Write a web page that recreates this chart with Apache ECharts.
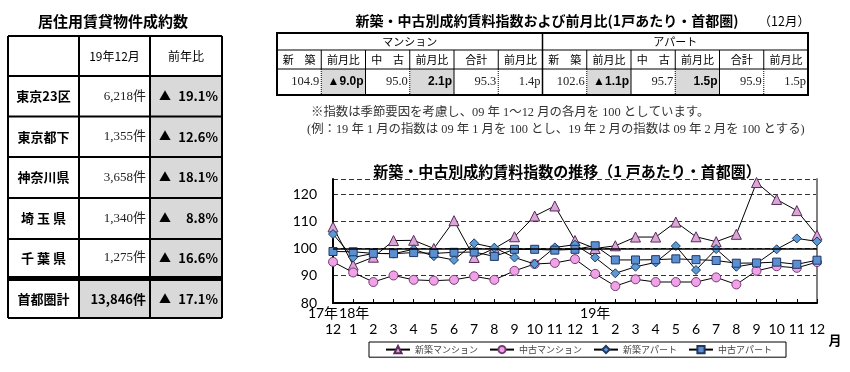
<!DOCTYPE html>
<html><head><meta charset="utf-8">
<script src="https://cdn.jsdelivr.net/npm/echarts@6/dist/echarts.min.js"></script>
<style>html,body{margin:0;padding:0;background:#fff}#c{width:850px;height:372px}</style>
</head><body><div id="c"></div>
<script>
// ---------- chart data ----------
const months = ['12','1','2','3','4','5','6','7','8','9','10','11','12','1','2','3','4','5','6','7','8','9','10','11','12'];
const years  = ['17年','18年','','','','','','','','','','','','19年','','','','','','','','','','',''];
const seriesNames = ['新築マンション','中古マンション','新築アパート','中古アパート'];
const newMansion  = [107.9, 93.9, 96.8, 102.9, 103.0, 100.0, 110.2, 96.7, 100.0, 104.3, 111.9, 115.6, 102.9, 100.0, 101.0, 104.2, 104.2, 109.7, 104.3, 102.5, 105.2, 124.2, 118.0, 113.9, 104.9];
const usedMansion = [95.1, 91.2, 87.7, 90.1, 88.5, 88.2, 88.5, 89.8, 88.5, 91.8, 94.3, 94.7, 96.1, 90.7, 86.2, 88.7, 87.7, 87.7, 87.7, 89.4, 86.8, 91.8, 93.5, 92.9, 95.0];
const newApart    = [105.3, 96.7, 98.2, 98.1, 99.7, 97.2, 95.8, 101.9, 100.3, 96.7, 94.3, 100.4, 101.4, 96.7, 90.9, 93.3, 94.9, 100.9, 92.1, 99.8, 93.3, 94.5, 99.7, 103.7, 102.6];
const usedApart   = [98.9, 98.8, 98.2, 98.1, 98.5, 98.2, 98.6, 98.7, 97.1, 99.7, 99.7, 99.4, 99.7, 101.0, 95.8, 95.8, 95.9, 96.2, 95.9, 95.6, 94.6, 94.7, 95.0, 94.2, 95.7];
const yTicks = [80, 90, 100, 110, 120];

// ---------- left table data ----------
const leftTitle = '居住用賃貸物件成約数';
const leftHeaders = ['', '19年12月', '前年比'];
const regionNames = ['東京23区','東京都下','神奈川県','埼 玉 県','千 葉 県'];
const regionCounts = ['6,218件','1,355件','3,658件','1,340件','1,275件'];
const regionYoY = ['19.1%','12.6%','18.1%','8.8%','16.6%'];
const totalName = '首都圏計', totalCount = '13,846件', totalYoY = '17.1%';

// ---------- right table data ----------
const rightTitle = '新築・中古別成約賃料指数および前月比(1戸あたり・首都圏)';
const rightMonth = '（12月）';
const groupHeaders = ['マンション','アパート'];
const colHeaders = ['新　築','前月比','中　古','前月比','合計','前月比','新　築','前月比','中　古','前月比','合計','前月比'];
const idxValues = ['104.9','▲9.0p','95.0','2.1p','95.3','1.4p','102.6','▲1.1p','95.7','1.5p','95.9','1.5p'];
const idxHighlight = [false,true,false,true,false,false,false,true,false,true,false,false];
const notes = ['※指数は季節要因を考慮し、09 年 1～12 月の各月を 100 としています。',
               '(例：19 年 1 月の指数は 09 年 1 月を 100 とし、19 年 2 月の指数は 09 年 2 月を 100 とする)'];
const chartTitle = '新築・中古別成約賃料指数の推移（1 戸あたり・首都圏）';

const JP = "'Noto Sans CJK JP', sans-serif";
const SERIF = "'Liberation Serif', 'Noto Sans CJK JP', serif";
const GRAY = '#d9d9d9';

const g = [];
const rect = (x,y,w,h,fill) => g.push({type:'rect', silent:true, shape:{x,y,width:w,height:h}, style:{fill}});
const line = (x1,y1,x2,y2,w,color,dash) => g.push({type:'line', silent:true, shape:{x1,y1,x2,y2}, style:{stroke:color||'#000', lineWidth:w, lineDash:dash||null}});
const text = (x,y,t,font,align,color) => g.push({type:'text', silent:true, x, y, style:{text:t, font, fill:color||'#000', align:align||'center', verticalAlign:'middle'}});

// ---- left table ----
(function(){
  const xs = [8, 79, 150, 222];
  const rowsY = [36, 76, 116.5, 157, 198, 239, 277];
  const totTop = 281, totBot = 318;
  text(113, 21, leftTitle, 'bold 15px '+JP);
  rect(150, 76, 72, 201, GRAY);
  rect(79, totTop, 143, totBot-totTop, GRAY);
  rect(8, 277, 214, 4, '#000');
  rowsY.forEach(y => line(8, y, 222, y, 2));
  line(8, totBot, 222, totBot, 2);
  xs.forEach(x => line(x, 36, x, totBot, 2));
  text(114.5, 56, leftHeaders[1], '12px '+JP);
  text(186, 56, leftHeaders[2], '12px '+JP);
  regionNames.forEach((n,i)=>{
    const cy = (rowsY[i+1]+rowsY[i+2])/2;
    text(43.5, cy, n, 'bold 13px '+JP);
    text(146, cy, regionCounts[i], '13px '+SERIF, 'right', '#222');
    text(159, cy, '▲', '12px '+JP, 'left');
    text(218, cy, regionYoY[i], 'bold 13px '+JP, 'right');
  });
  const ty = (totTop+totBot)/2;
  text(43.5, ty, totalName, 'bold 13px '+JP);
  text(146, ty, totalCount, 'bold 13px '+JP, 'right');
  text(159, ty, '▲', '12px '+JP, 'left');
  text(218, ty, totalYoY, 'bold 13px '+JP, 'right');
})();

// ---- right table ----
(function(){
  const x0 = 277, x1 = 808, cw = (x1-x0)/12;
  const y0 = 33, y1 = 50, y2 = 69, y3 = 95;
  text(547, 21, rightTitle, 'bold 14px '+JP);
  text(810, 21, rightMonth, '12.5px '+JP, 'right');
  idxHighlight.forEach((h,i)=>{ if(h) rect(x0+i*cw, y2, cw, y3-y2, GRAY); });
  line(x0, y1, x1, y1, 1);
  line(x0, y2, x1, y2, 1);
  for(let i=1;i<12;i++){
    const x = x0+i*cw;
    if(i===6) continue;
    line(x, y1, x, y2, 1);
    line(x, y2, x, y3, 1, '#000', (i%2===1)?[1,1]:null);
  }
  line(x0+6*cw, y0, x0+6*cw, y3, 1.5);
  g.push({type:'rect', silent:true, shape:{x:x0, y:y0, width:x1-x0, height:y3-y0}, style:{fill:null, stroke:'#000', lineWidth:2}});
  text(x0+3*cw, (y0+y1)/2, groupHeaders[0], '11px '+JP);
  text(x0+9*cw, (y0+y1)/2, groupHeaders[1], '11px '+JP);
  colHeaders.forEach((h,i)=> text(x0+(i+0.5)*cw, (y1+y2)/2, h, '11px '+JP));
  idxValues.forEach((v,i)=>{
    const xr = x0+(i+1)*cw-2;
    if(idxHighlight[i]) text(xr, (y2+y3)/2, v, 'bold 12px '+"'Liberation Sans', 'Noto Sans CJK JP'", 'right');
    else text(xr, (y2+y3)/2, v, '12.5px '+SERIF, 'right', '#222');
  });
  text(311, 113, notes[0], '12.4px '+SERIF, 'left', '#333');
  text(307, 130, notes[1], '12.4px '+SERIF, 'left', '#333');
})();

// ---- chart title and unit ----
text(567, 171, chartTitle, 'bold 15px '+JP);
text(835, 340, '月', 'bold 13px '+JP);

const mk = (name, data, symbol, size, fill, border, z) => ({
  name, type:'line', data, symbol, symbolSize:size, showSymbol:true, z,
  lineStyle:{color:'#000', width:1},
  itemStyle:{color:fill, borderColor:border, borderWidth:1},
  emphasis:{disabled:true}, animation:false
});

const series = [
  mk(seriesNames[0], newMansion, 'triangle', 10, '#d9a6d6', '#5a2a5a', 3),
  mk(seriesNames[1], usedMansion, 'circle', 9, '#f0a2e6', '#7a3a7a', 3),
  mk(seriesNames[2], newApart, 'diamond', 9, '#5b9bd5', '#1f3864', 4),
  mk(seriesNames[3], usedApart, 'rect', 8, '#5b8fd0', '#1f3864', 4)
];
series[0].markLine = {silent:true, symbol:'none', label:{show:false}, lineStyle:{color:'#000', width:1.5, type:'solid'}, data:[{yAxis:100}], animation:false};

const chart = echarts.init(document.getElementById('c'), null, {renderer:'canvas'});
chart.setOption({
  backgroundColor:'#fff',
  animation:false,
  grid:{left:333, right:33, top:179, bottom:69},
  legend:{left:369, top:342, itemWidth:24, itemHeight:9, itemGap:11, padding:[3,14,3,16],
    borderColor:'#000', borderWidth:1, backgroundColor:'#fff', selectedMode:false,
    textStyle:{fontSize:9, color:'#444', fontFamily:JP}, data:seriesNames},
  xAxis:{type:'category', boundaryGap:false, data:months.map((m,i)=>i+':'+m),
    axisLine:{lineStyle:{color:'#000', width:2}},
    axisTick:{inside:true, length:4, interval:0, lineStyle:{color:'#000'}},
    axisLabel:{interval:0, margin:2, color:'#000',
      formatter:(v,i)=>{ const tag = i===0?'y0':(i===1?'y1':'y'); return '{'+tag+'|'+(years[i]||' ')+'}\n{m|'+months[i]+'}'; },
      rich:{
        y:{fontSize:14, lineHeight:16, fontFamily:"Lato, 'Noto Sans CJK JP'", color:'#000'},
        y0:{fontSize:14, lineHeight:16, fontFamily:"Lato, 'Noto Sans CJK JP'", color:'#000', padding:[0,20,0,0]},
        y1:{fontSize:14, lineHeight:16, fontFamily:"Lato, 'Noto Sans CJK JP'", color:'#000', padding:[0,0,0,2]},
        m:{fontSize:14, lineHeight:16, fontFamily:"Lato", color:'#000'}
      }},
    splitLine:{show:false}},
  yAxis:[
    {type:'value', min:yTicks[0], max:125.5, interval:10,
      axisLine:{show:true, lineStyle:{color:'#000', width:2}}, axisTick:{show:false},
      axisLabel:{fontSize:14, fontFamily:'Lato', color:'#000', margin:16, showMaxLabel:false},
      splitLine:{show:true, lineStyle:{color:'#333', width:1, type:[5,3]}}},
    {type:'value', min:yTicks[0], max:125.5, interval:10, position:'right',
      axisLine:{show:true, lineStyle:{color:'#808080', width:2}}, axisTick:{show:false},
      axisLabel:{show:false}, splitLine:{show:false}}
  ],
  series,
  graphic:g
});
</script></body></html>
